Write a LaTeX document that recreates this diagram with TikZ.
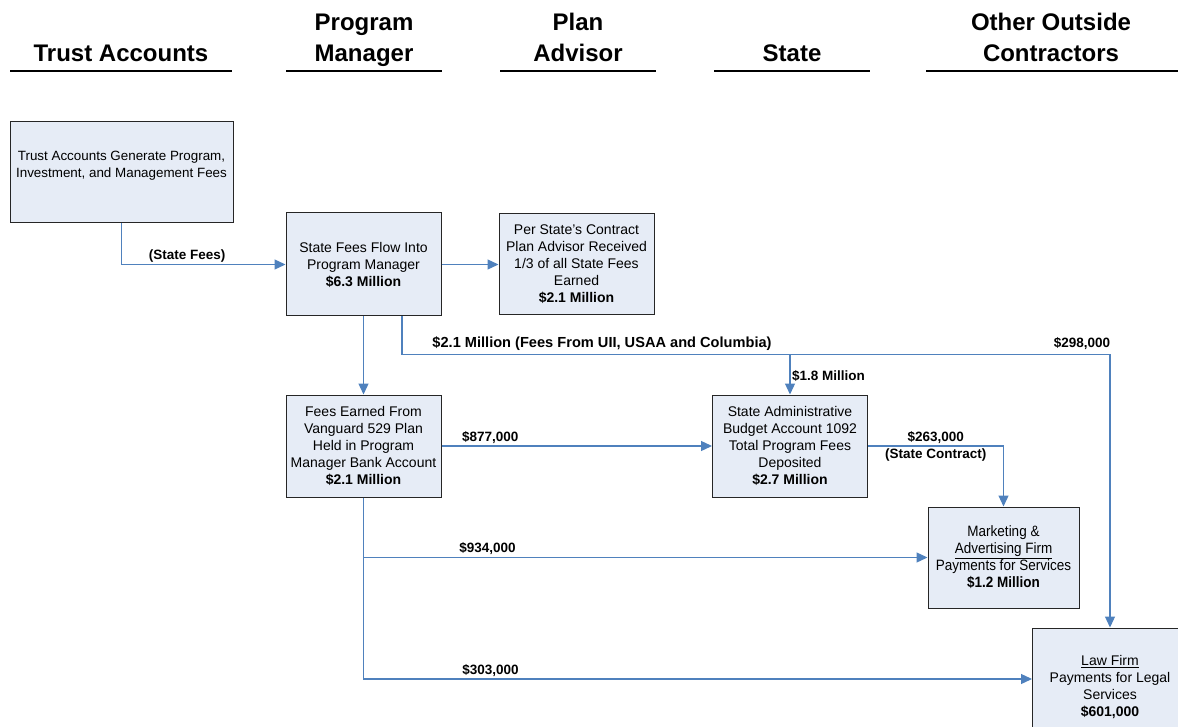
\documentclass[tikz,border=0pt]{standalone}
\usepackage{fontspec}
\setmainfont{Liberation Sans}
\newfontfamily\narrowfont[FakeStretch=0.9]{Liberation Sans}
\usetikzlibrary{arrows.meta}
\definecolor{boxfill}{HTML}{E6ECF6}
\definecolor{flowblue}{HTML}{4F81BD}
\tikzset{
  box/.style={draw=black!85, line width=1pt, fill=boxfill, minimum width=155pt,
              minimum height=102pt, inner sep=0pt, align=center,
              font=\fontsize{14}{17}\selectfont},
  head/.style={align=center, inner sep=0pt, text depth=0pt, anchor=south,
               font=\fontsize{24}{31}\selectfont\bfseries},
  headline/.style={line width=2pt},
  flow/.style={draw=flowblue, line width=1.3pt, -{Triangle[length=11pt,width=10pt]}},
  lbl/.style={font=\fontsize{13.5}{16}\selectfont\bfseries, inner sep=2pt},
}

\begin{document}
\begin{tikzpicture}[x=1pt, y=-1pt]
    \useasboundingbox (0,0) rectangle (1178,727);

    % Column headers
    \node[head] (htrust) at (121,62) {Trust Accounts};
    \node[head] (hpm) at (364,62) {Program\\Manager};
    \node[head] (hadv) at (578,62) {Plan\\Advisor};
    \node[head] (hstate) at (792,62) {State};
    \node[head] (hother) at (1051,62) {Other Outside\\Contractors};
    \foreach \a/\b in {10/232, 286/442, 500/656, 714/870, 926/1180}
        \draw[headline] (\a,71) -- (\b,71);

    % Boxes
    \node[box, minimum width=223pt, minimum height=101pt, font=\fontsize{13.4}{17}\selectfont] (trust) at (121.5,172.5)
        {Trust Accounts Generate Program,\\Investment, and Management Fees\\ \mbox{}};
    \node[box, minimum height=103pt] (sfees) at (363.5,264.5)
        {State Fees Flow Into\\Program Manager\\\textbf{\$6.3 Million}};
    \node[box, minimum height=101pt] (advisor) at (576.5,264.5)
        {Per State's Contract\\Plan Advisor Received\\1/3 of all State Fees\\Earned\\\textbf{\$2.1 Million}};
    \node[box] (vang) at (363.5,446)
        {Fees Earned From\\Vanguard 529 Plan\\Held in Program\\Manager Bank Account\\\textbf{\$2.1 Million}};
    \node[box] (admin) at (790,446)
        {State Administrative\\Budget Account 1092\\Total Program Fees\\Deposited\\\textbf{\$2.7 Million}};
    \node[box, minimum width=151pt, minimum height=101pt, font=\fontsize{15}{17}\selectfont\narrowfont] (mkt) at (1003.5,557.5)
        {Marketing \&\\\underline{Advertising Firm}\\Payments for Services\\\textbf{\$1.2 Million}};
    \node[box, minimum height=118pt] (law) at (1110,687)
        {\underline{Law Firm}\\Payments for Legal\\Services\\\textbf{\$601,000}};

    % Fee flows
    \draw[flow] (trust.south) |- (sfees.west) node[lbl, pos=0.7, above] {(State Fees)};
    \draw[flow] (sfees.east) -- (sfees.east -| advisor.west);
    \draw[flow] (sfees.south) -- (vang.north);
    \draw[flow] ([xshift=38.5pt]sfees.south) -- ++(0,38) coordinate (tap) -| (law.north);
    \draw[flow] (tap -| admin.north) -- (admin.north);
    \node[lbl, font=\fontsize{14.6}{16}\selectfont\bfseries] (lbig) at (602,344) {\$2.1 Million (Fees From UII, USAA and Columbia)};
    \node[lbl] (l298) at (1082,344) {\$298,000};
    \node[lbl, anchor=west] (l18) at (790,376) {\$1.8 Million};
    \draw[flow] (vang.east) -- (admin.west) node[lbl, pos=0.18, above] {\$877,000};
    \draw[flow] (admin.east) -| (mkt.north)
        node[lbl, pos=0.25, above] {\$263,000}
        node[lbl, pos=0.25, below] {(State Contract)};
    \draw[flow] (vang.south) |- (mkt.west) node[lbl, pos=0.61, above] {\$934,000};
    \draw[flow] (vang.south) |- ([yshift=8pt]law.west) node[lbl, pos=0.595, above] {\$303,000};
\end{tikzpicture}
\end{document}
